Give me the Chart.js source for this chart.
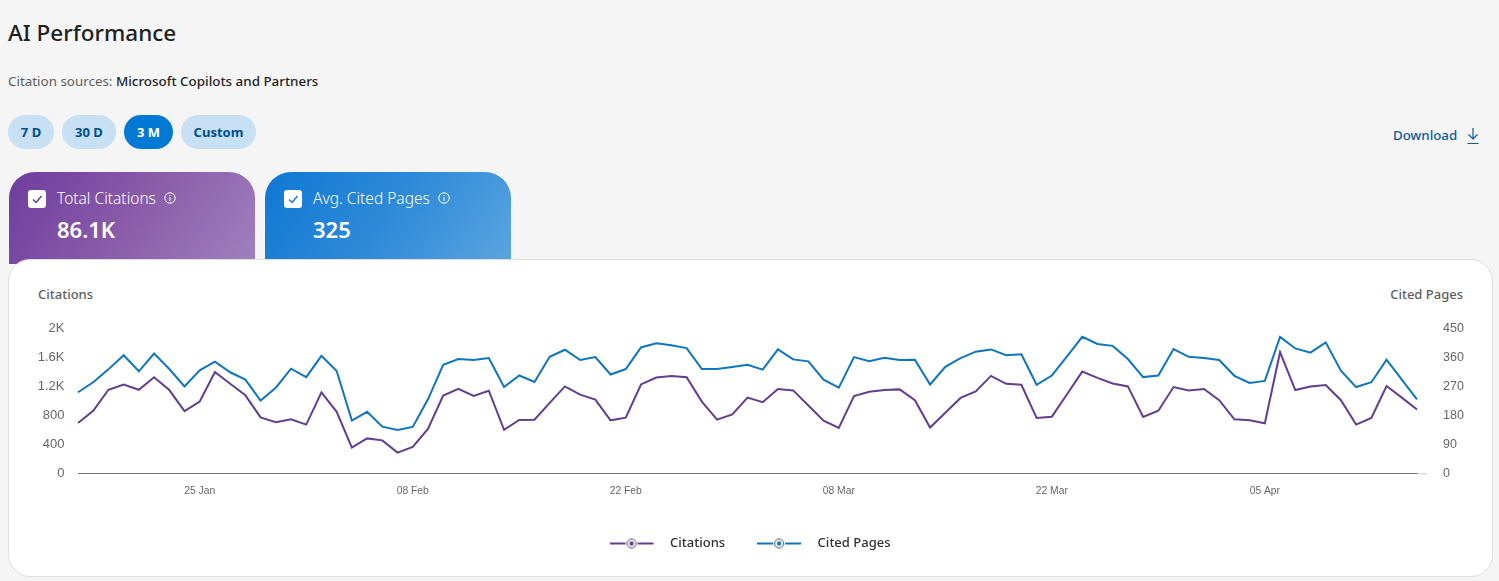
<!DOCTYPE html>
<html>
<head>
<meta charset="utf-8">
<title>AI Performance</title>
<script src="https://cdn.jsdelivr.net/npm/chart.js@4"></script>
<style>
  html, body { margin: 0; padding: 0; }
  body { width: 1499px; height: 581px; overflow: hidden; background: #f5f5f6; position: relative;
         font-family: "Noto Sans", sans-serif; color: #201f1e; }
  .abs { position: absolute; white-space: nowrap; }
  h1 { margin: 0; left: 8px; top: 16px; font-size: 22.5px; line-height: 34px; font-weight: 500; }
  .sources { left: 8px; top: 71px; font-size: 13.4px; line-height: 20px; color: #605e5c; }
  .sources b { font-weight: 500; color: #252423; }
  .pill { top: 115px; height: 34px; line-height: 34px; border-radius: 17px; text-align: center;
          background: #c7e0f4; color: #004e8c; font-size: 13px; font-weight: 700; }
  .pill.on { background: #0078d4; color: #fff; }
  .download { left: 1393px; top: 125px; font-size: 13.3px; line-height: 20px; color: #0f5a9c; font-weight: 500; }
  .tile { top: 172px; width: 246px; height: 92px; border-radius: 26px 26px 0 0; color: #fff; }
  .tile.purple { left: 9px; background: linear-gradient(125deg, #6e3d9e 0%, #8a5ca9 50%, #a180c0 100%); }
  .tile.blue { left: 265px; background: linear-gradient(125deg, #0f78d4 0%, #2f8ad8 50%, #5ba5e0 100%); }
  .box { left: 19px; top: 18px; width: 18px; height: 18px; background: #fff; border-radius: 3px; }
  .tile .name { left: 48px; top: 15px; font-size: 15.5px; line-height: 22px; font-weight: 300; }
  .tile .val { left: 48px; top: 40px; font-size: 22px; line-height: 34px; font-weight: 600; }
  .card { left: 8px; top: 259px; width: 1483px; height: 316px; background: #fff;
          border: 1px solid #dedede; border-radius: 22px; }
  .axis-title { top: 285px; font-size: 13px; line-height: 18px; color: #605e5c; font-weight: 500; }
  canvas { position: absolute; left: 9px; top: 303px; }
</style>
</head>
<body>
<h1 class="abs">AI Performance</h1>
<div class="abs sources">Citation sources: <b>Microsoft Copilots and Partners</b></div>

<div class="abs pill" style="left:8px;width:46px">7 D</div>
<div class="abs pill" style="left:62px;width:54px">30 D</div>
<div class="abs pill on" style="left:124px;width:49px">3 M</div>
<div class="abs pill" style="left:181px;width:75px">Custom</div>

<div class="abs download">Download</div>
<svg class="abs" style="left:1466px;top:127px" width="14" height="18" viewBox="0 0 14 18" fill="none" stroke="#0f5a9c" stroke-width="1.2">
  <path d="M7 1v11M2.5 7.5 7 12l4.500-4.500M1.500 16.500h11"/>
</svg>

<div class="abs tile purple">
  <div class="abs box"></div>
  <svg class="abs" style="left:19px;top:18px" width="18" height="18" fill="none" stroke="#5c3a8c" stroke-width="1.4"><path d="M5 9.500 8 12.500 13.500 6"/></svg>
  <div class="abs name">Total Citations</div>
  <svg class="abs" style="left:155px;top:20px" width="12" height="12" fill="none" stroke="#fff"><circle cx="6" cy="6" r="5.200"/><path d="M6 5v4M6 3v1"/></svg>
  <div class="abs val">86.1K</div>
</div>
<div class="abs tile blue">
  <div class="abs box"></div>
  <svg class="abs" style="left:19px;top:18px" width="18" height="18" fill="none" stroke="#0f78d4" stroke-width="1.4"><path d="M5 9.500 8 12.500 13.500 6"/></svg>
  <div class="abs name">Avg. Cited Pages</div>
  <svg class="abs" style="left:173px;top:20px" width="12" height="12" fill="none" stroke="#fff"><circle cx="6" cy="6" r="5.200"/><path d="M6 5v4M6 3v1"/></svg>
  <div class="abs val">325</div>
</div>

<div class="abs card"></div>
<div class="abs axis-title" style="left:38px">Citations</div>
<div class="abs axis-title" style="right:36px">Cited Pages</div>

<canvas id="myChart" width="1482" height="257"></canvas>

<script>
const dates = [
  "17 Jan","18 Jan","19 Jan","20 Jan","21 Jan","22 Jan","23 Jan","24 Jan","25 Jan","26 Jan","27 Jan","28 Jan","29 Jan","30 Jan","31 Jan",
  "01 Feb","02 Feb","03 Feb","04 Feb","05 Feb","06 Feb","07 Feb","08 Feb","09 Feb","10 Feb","11 Feb","12 Feb","13 Feb","14 Feb","15 Feb",
  "16 Feb","17 Feb","18 Feb","19 Feb","20 Feb","21 Feb","22 Feb","23 Feb","24 Feb","25 Feb","26 Feb","27 Feb","28 Feb",
  "01 Mar","02 Mar","03 Mar","04 Mar","05 Mar","06 Mar","07 Mar","08 Mar","09 Mar","10 Mar","11 Mar","12 Mar","13 Mar","14 Mar","15 Mar",
  "16 Mar","17 Mar","18 Mar","19 Mar","20 Mar","21 Mar","22 Mar","23 Mar","24 Mar","25 Mar","26 Mar","27 Mar","28 Mar","29 Mar","30 Mar","31 Mar",
  "01 Apr","02 Apr","03 Apr","04 Apr","05 Apr","06 Apr","07 Apr","08 Apr","09 Apr","10 Apr","11 Apr","12 Apr","13 Apr","14 Apr","15 Apr"
];
const shownDates = ["25 Jan", "08 Feb", "22 Feb", "08 Mar", "22 Mar", "05 Apr"];

const citations = [
  695, 864, 1154, 1227, 1154, 1327, 1150, 859, 991, 1400, 1236, 1077, 773, 705, 745, 673, 1118, 850, 355, 482,
  455, 286, 364, 614, 1073, 1168, 1068, 1141, 600, 736, 741, 973, 1200, 1086, 1018, 732, 768, 1227, 1323, 1345,
  1327, 991, 741, 814, 1045, 982, 1164, 1145, 936, 727, 627, 1068, 1127, 1150, 1159, 1009, 632, 836, 1041, 1132,
  1345, 1236, 1223, 764, 782, 1091, 1405, 1318, 1241, 1200, 777, 864, 1191, 1145, 1164, 1009, 745, 732, 691, 1673,
  1150, 1200, 1218, 1009, 673, 764, 1205, 1045, 882
];
const citedPages = [
  252, 283, 323, 367, 317, 372, 324, 270, 320, 347, 314, 291, 226, 266, 325, 299, 365, 318, 164, 191,
  145, 135, 144, 230, 337, 355, 352, 358, 268, 304, 284, 362, 384, 352, 361, 307, 324, 391, 404, 398,
  389, 324, 324, 330, 337, 322, 385, 354, 348, 291, 266, 361, 348, 359, 352, 353, 276, 331, 358, 378,
  385, 367, 370, 275, 304, 363, 424, 402, 396, 355, 299, 304, 386, 362, 358, 352, 303, 281, 287, 424,
  388, 375, 407, 319, 268, 283, 353, 291, 230
];

const purple = '#633e8f';
const blue = '#0f75bd';
const tickGrey = '#666666';

function legendMark(color) {
  const c = document.createElement('canvas');
  c.width = 54;
  c.height = 14;
  const g = c.getContext('2d');
  g.strokeStyle = color;
  g.lineWidth = 2;
  g.beginPath();
  g.moveTo(0, 7); g.lineTo(16, 7);
  g.moveTo(28, 7); g.lineTo(44, 7);
  g.stroke();
  g.lineWidth = 1;
  g.strokeStyle = '#4a4a5a';
  g.beginPath();
  g.arc(22, 7, 4.5, 0, Math.PI * 2);
  g.stroke();
  g.fillStyle = color;
  g.beginPath();
  g.arc(22, 7, 2.2, 0, Math.PI * 2);
  g.fill();
  return c;
}

// the baseline runs on a little past the last point, in a lighter grey
const baselineTail = {
  id: 'baselineTail',
  beforeDatasetsDraw(chart) {
    const ctx = chart.ctx, a = chart.chartArea;
    ctx.save();
    ctx.strokeStyle = '#c8c8c8';
    ctx.lineWidth = 1;
    ctx.beginPath();
    ctx.moveTo(a.right, a.bottom + 0.5);
    ctx.lineTo(a.right + 10, a.bottom + 0.5);
    ctx.stroke();
    ctx.restore();
  }
};

const ctx = document.getElementById('myChart').getContext('2d');
const myChart = new Chart(ctx, {
  type: 'line',
  plugins: [baselineTail],
  data: {
    labels: dates,
    datasets: [
      { label: 'Citations', data: citations, yAxisID: 'y', borderColor: purple, backgroundColor: purple,
        borderWidth: 2, tension: 0, pointRadius: 0, pointStyle: legendMark(purple) },
      { label: 'Cited Pages', data: citedPages, yAxisID: 'y1', borderColor: blue, backgroundColor: blue,
        borderWidth: 2, tension: 0, pointRadius: 0, pointStyle: legendMark(blue) }
    ]
  },
  options: {
    responsive: false,
    animation: false,
    plugins: {
      tooltip: { enabled: false },
      legend: {
        position: 'bottom',
        labels: {
          usePointStyle: true,
          pointStyleWidth: 54,
          padding: 32,
          color: '#323130',
          font: { family: '"Noto Sans"', size: 13, weight: '500' }
        }
      }
    },
    scales: {
      x: {
        grid: { display: false },
        border: { color: '#777777' },
        afterBuildTicks: (axis) => { axis.ticks = axis.ticks.filter(t => shownDates.includes(dates[t.value])); },
        afterFit: (axis) => { axis.height = 31.7; },
        ticks: { autoSkip: false, maxRotation: 0, padding: 4, color: tickGrey,
                 font: { family: '"Liberation Sans"', size: 10.3 } }
      },
      y: {
        position: 'left',
        min: 0, max: 2000,
        grid: { display: false },
        border: { display: false },
        afterFit: (axis) => { axis.width = 69; },
        ticks: { stepSize: 400, padding: 5.5, color: tickGrey, font: { family: '"Liberation Sans"', size: 13 },
                 callback: (v) => v === 0 ? '0' : (v >= 1000 ? (v / 1000) + 'K' : v) }
      },
      y1: {
        position: 'right',
        min: 0, max: 450,
        grid: { display: false },
        border: { display: false },
        afterFit: (axis) => { axis.width = 74; },
        ticks: { stepSize: 90, padding: 18, color: tickGrey, font: { family: '"Liberation Sans"', size: 12.5 } }
      }
    }
  }
});
</script>
</body>
</html>
